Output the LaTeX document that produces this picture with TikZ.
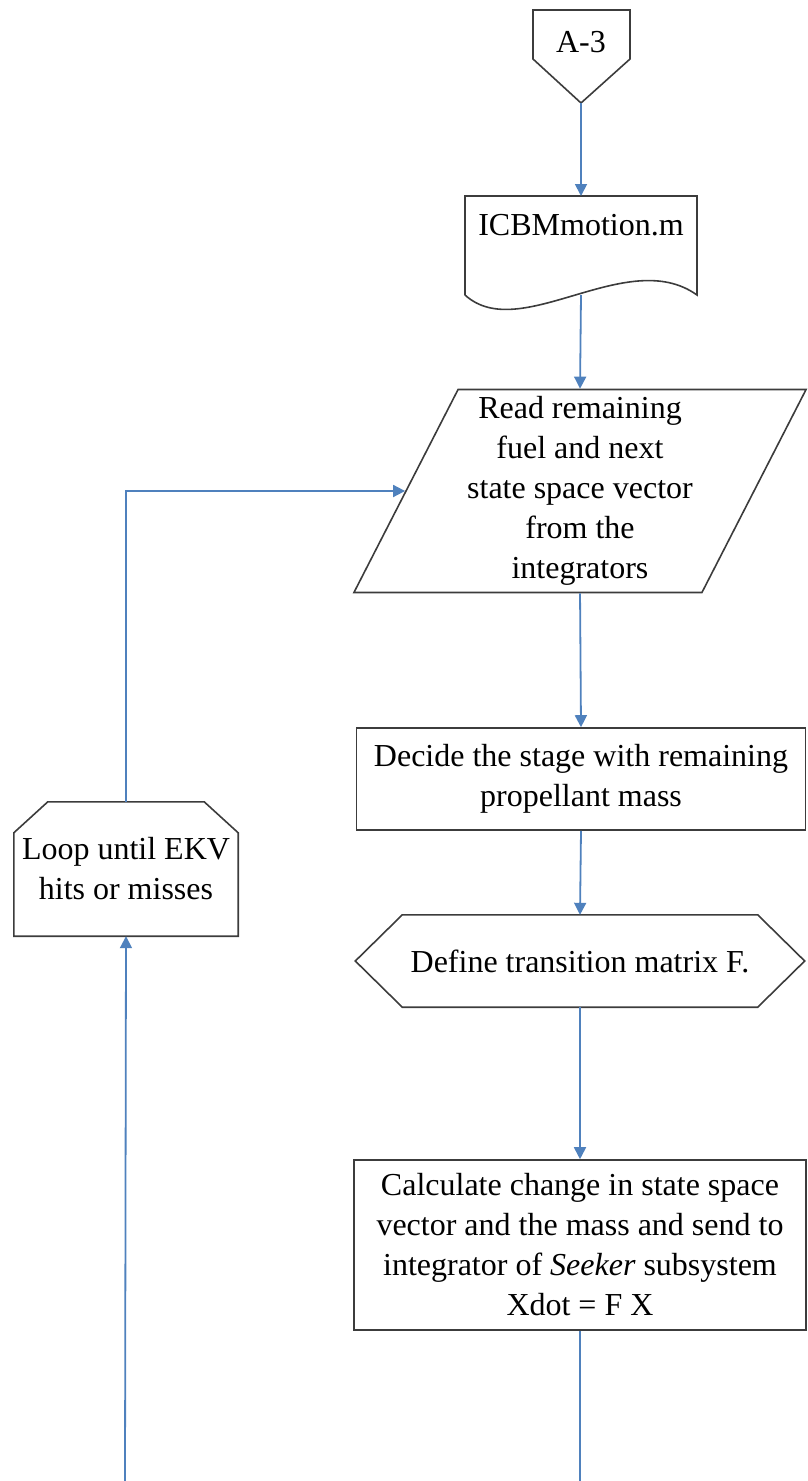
\documentclass[tikz,border=0pt]{standalone}
\usepackage{fontspec}
\setmainfont{Liberation Serif}
\usetikzlibrary{shapes.geometric,arrows.meta}

\definecolor{flowblue}{RGB}{79,129,189}
\definecolor{outline}{RGB}{60,60,60}

\begin{document}
\begin{tikzpicture}[x=1pt,y=-1pt,
  txt/.style={font=\fontsize{32}{40}\selectfont, align=center, inner sep=0pt},
  box/.style={txt, draw=outline, line width=1.6pt, fill=white},
  shapeline/.style={draw=outline, line width=1.6pt},
  flow/.style={draw=flowblue, line width=1.8pt, -{Triangle[length=12pt,width=12pt]}},
  ]
\useasboundingbox (0,0) rectangle (807,1481);

% Off-page connector
\draw[shapeline] (533,10) -- (630,10) -- (630,59) -- (581,103) -- (533,59) -- cycle;
\node[txt] (a3) at (581,42) {A-3};
\coordinate (a3 tip) at (581,103);

% Document symbol
\draw[shapeline] (465,295) -- (465,196) -- (697,196) -- (697,295)
  .. controls (627,245) and (520,345) .. (465,295);
\node[txt] (motion) at (581,225) {ICBMmotion.m};
\coordinate (motion top) at (581,196);
\coordinate (motion out) at (581,295);

% Input / output
\node[box, trapezium, trapezium left angle=63, trapezium right angle=117,
  trapezium stretches=true, minimum width=454pt, minimum height=203pt]
  (read) at (580,491) {Read remaining\\fuel and next\\state space vector\\from the\\integrators};

% Processes
\node[box, minimum width=449pt, minimum height=102pt] (stage) at (581,779)
  {Decide the stage with remaining\\propellant mass};

\node[txt, minimum width=449pt, minimum height=92pt] (define) at (580,961) {Define transition matrix F.};
\draw[shapeline] (define.west) -- ([xshift=47pt]define.north west) -- ([xshift=-47pt]define.north east)
  -- (define.east) -- ([xshift=-47pt]define.south east) -- ([xshift=47pt]define.south west) -- cycle;

\node[box, minimum width=452pt, minimum height=170pt] (calc) at (580,1245)
  {Calculate change in state space\\vector and the mass and send to\\integrator of \textit{Seeker} subsystem\\Xdot = F X};

% Loop limit
\node[txt, minimum width=224pt, minimum height=134pt] (loop) at (126,869) {Loop until EKV\\hits or misses};
\draw[shapeline] (loop.south west) -- ([yshift=-31pt]loop.north west) -- ([xshift=34pt]loop.north west)
  -- ([xshift=-34pt]loop.north east) -- ([yshift=-31pt]loop.north east) -- (loop.south east) -- cycle;

\coordinate (calc end) at (580,1481);
\coordinate (loop start) at (125,1481);

% Flow lines
\draw[flow] (a3 tip) -- (motion top);
\draw[flow] (motion out) -- (read.north);
\draw[flow] (read.south) -- (stage.north);
\draw[flow] (stage.south) -- (define.north);
\draw[flow] (define.south) -- (calc.north);
\draw[flowblue, line width=1.8pt] (calc.south) -- (calc end);
\draw[flow] (loop start) -- (loop.south);
\draw[flow] (loop.north) |- (read.west);

\end{tikzpicture}
\end{document}
